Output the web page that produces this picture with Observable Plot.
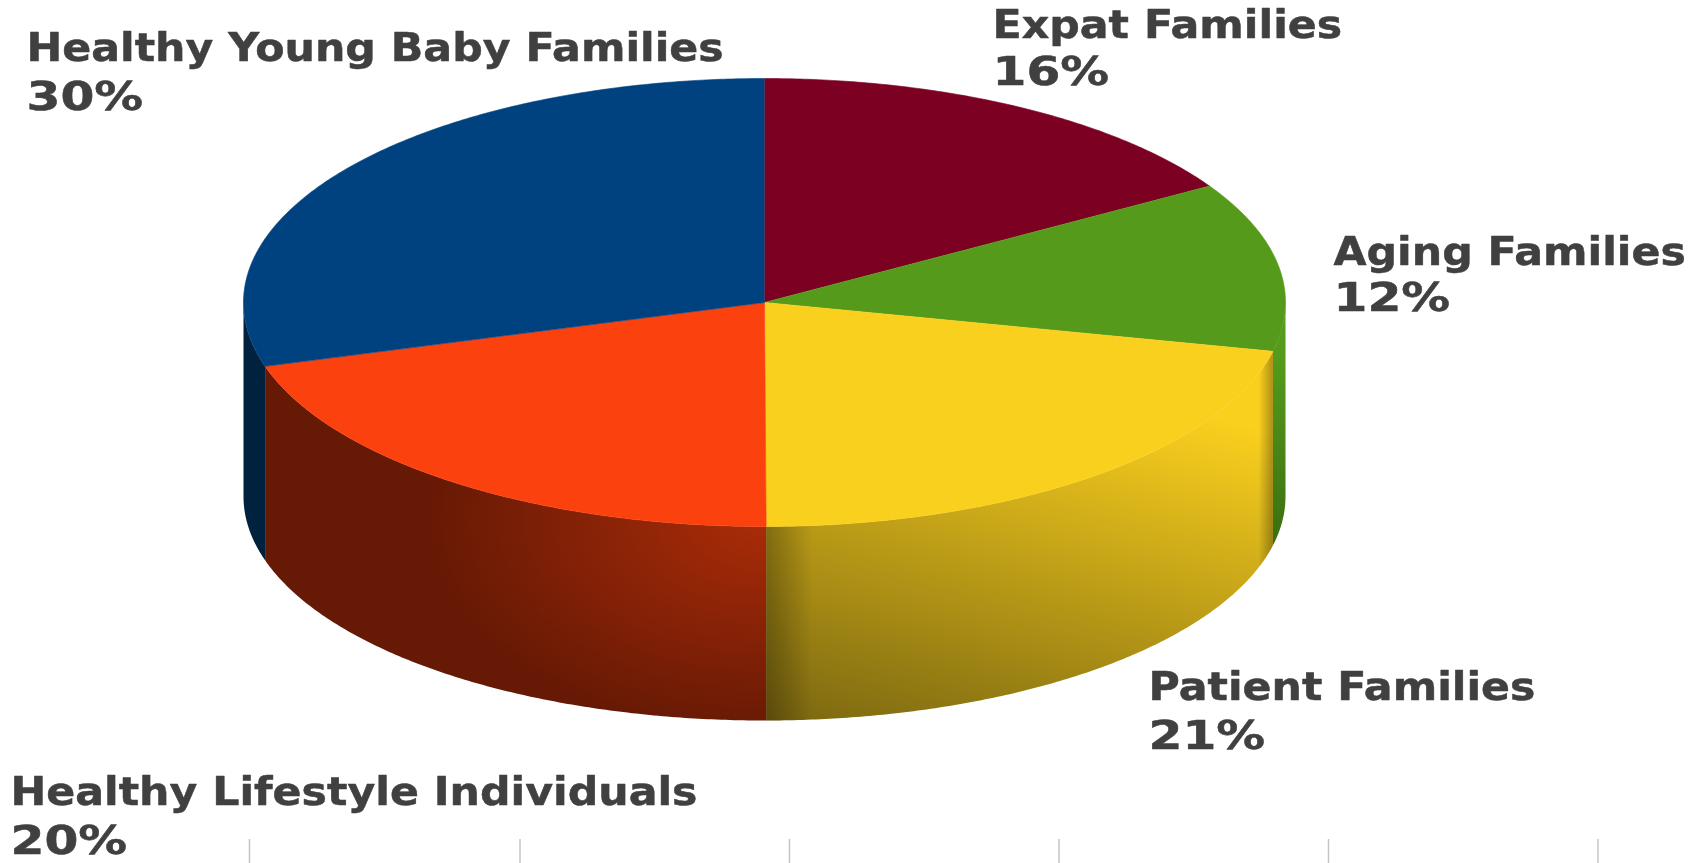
<!DOCTYPE html>
<html>
<head>
<meta charset="utf-8">
<script src="https://cdn.jsdelivr.net/npm/d3@7"></script>
<script src="https://cdn.jsdelivr.net/npm/@observablehq/plot@0.6"></script>
<style>html,body{margin:0;padding:0;background:#fff;overflow:hidden}</style>
</head>
<body>
<div id="chart"></div>
<script>
const categories = ["Expat Families","Aging Families","Patient Families","Healthy Lifestyle Individuals","Healthy Young Baby Families"];
const shares = [16.3,12.2,21.45,20.45,29.6];
const percentLabels = ["16%","12%","21%","20%","30%"];
const topColors = ["#7b0022","#559a1a","#fad01e","#fb410e","#00427f"];
const wallFills = ["none","url(#wallGreen)","url(#wallYellow)","url(#wallRed)","#00223f"];
const labelX = [992,1333,1148,10,26];
const nameY = [37,264,699,804,60];
const percentY = [84,310,748,853,109];
const axisTicks = [249,519.5,789,1058.5,1328,1597.5];

const W = 1704, H = 863;
const cx = 764, cy = 302, rx = 521, ry = 224, depth = 194;
const fontSize = 39, nameStretch = 1.095, percentStretch = 1.25;

const point = (deg, dy = 0) => {
  const a = deg * Math.PI / 180;
  return {x: cx + rx * Math.sin(a), y: cy - ry * Math.cos(a) + dy};
};
const sweep = (a0, a1, dy = 0) => {
  const n = Math.max(2, Math.ceil(Math.abs(a1 - a0) * 2));
  return d3.range(n + 1).map(i => point(a0 + (a1 - a0) * i / n, dy));
};

let cum = 0;
const slices = categories.map((name, i) => {
  const a0 = cum * 3.6; cum += shares[i]; const a1 = cum * 3.6;
  return {name, i, a0, a1};
});

const topFace = s => [{x: cx, y: cy}, ...sweep(s.a0, s.a1)];
const wallFace = s => {
  const a0 = Math.max(s.a0, 90), a1 = Math.min(s.a1, 270);
  if (a1 <= a0) return [];
  return [...sweep(a0, a1), ...sweep(a1, a0, depth)];
};

const defs = () => {
  const d = d3.create("svg:defs");
  const lin = (id, x1, y1, x2, y2, stops) => {
    const g = d.append("linearGradient").attr("id", id).attr("gradientUnits", "userSpaceOnUse")
      .attr("x1", x1).attr("y1", y1).attr("x2", x2).attr("y2", y2);
    stops.forEach(([o, c, op = 1]) => g.append("stop").attr("offset", o).attr("stop-color", c).attr("stop-opacity", op));
  };
  lin("wallGreen", 0, 350, 0, 540, [[0, "#569c1c"], [1, "#3b7010"]]);
  lin("wallYellow", 1150, 400, 1047, 797, [[0, "#fad01e"], [1, "#7a6610"]]);
  lin("bandLeft", 764, 0, 812, 0, [[0, "#000", .3], [1, "#000", 0]]);
  lin("bandRight", 1258, 0, 1272, 0, [[0, "#000", 0], [1, "#000", .3]]);
  const r = d.append("radialGradient").attr("id", "wallRed").attr("gradientUnits", "userSpaceOnUse")
    .attr("cx", 0).attr("cy", 0).attr("r", 1)
    .attr("gradientTransform", "translate(764,520) scale(340,215)");
  [[0, "#aa2c08"], [1, "#661905"]].forEach(([o, c]) => r.append("stop").attr("offset", o).attr("stop-color", c));
  return d.node();
};

const measure = document.createElement("canvas").getContext("2d");
const stretched = stretch => (index, scales, values, dims, context, next) => {
  const g = next(index, scales, values, dims, context);
  measure.font = `bold ${fontSize}px "DejaVu Sans"`;
  d3.select(g).selectAll("text").each(function () {
    this.setAttribute("lengthAdjust", "spacingAndGlyphs");
    this.setAttribute("textLength", measure.measureText(this.textContent).width * stretch);
  });
  return g;
};
const labelText = (rows, stretch) => Plot.text(rows, {
  x: "x", y: "y", text: "t", textAnchor: "start", lineAnchor: "bottom",
  fontFamily: "DejaVu Sans", fontWeight: "bold", fontSize,
  fill: "#404040", stroke: "#404040", strokeWidth: 0.5, render: stretched(stretch)
});

const yellow = slices[2];
const marks = [
  defs,
  ...slices.filter(s => wallFills[s.i] !== "none").map(s =>
    Plot.line(wallFace(s), {x: "x", y: "y", fill: wallFills[s.i], stroke: "none", curve: "linear"})),
  Plot.line(wallFace(yellow), {x: "x", y: "y", fill: "url(#bandLeft)", stroke: "none", curve: "linear"}),
  Plot.line(wallFace(yellow), {x: "x", y: "y", fill: "url(#bandRight)", stroke: "none", curve: "linear"}),
  ...slices.map(s =>
    Plot.line(topFace(s), {x: "x", y: "y", fill: topColors[s.i], stroke: topColors[s.i], strokeWidth: 0.6, curve: "linear"})),
  Plot.ruleX(axisTicks, {y1: 839, y2: H, stroke: "#c4c4c4", strokeWidth: 1.5}),
  labelText(categories.map((c, i) => ({t: c, x: labelX[i], y: nameY[i]})), nameStretch),
  labelText(percentLabels.map((c, i) => ({t: c, x: labelX[i], y: percentY[i]})), percentStretch)
];

document.getElementById("chart").append(Plot.plot({
  width: W, height: H, margin: 0,
  x: {domain: [0, W], range: [0, W], axis: null},
  y: {domain: [0, H], range: [0, H], axis: null},
  style: {background: "#fff", filter: "blur(0.6px)", display: "block"},
  marks
}));
</script>
</body>
</html>
